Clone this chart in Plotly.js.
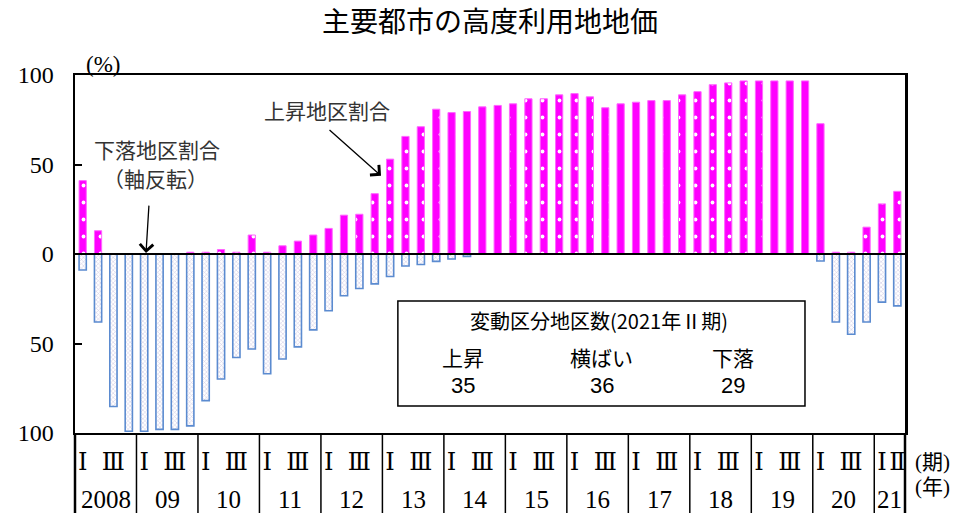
<!DOCTYPE html>
<html>
<head>
<meta charset="utf-8">
<script src="https://cdn.plot.ly/plotly-3.0.1.min.js"></script>
<style>html,body{margin:0;padding:0;background:#fff;}#chart{width:960px;height:513px;}</style>
</head>
<body>
<div id="chart"></div>
<script>
// ---- data ----
const years = ['2008','09','10','11','12','13','14','15','16','17','18','19','20','21'];
const quartersPerYear = [4,4,4,4,4,4,4,4,4,4,4,4,4,2];
const quarterNames = ['Ⅰ','Ⅱ','Ⅲ','Ⅳ'];
// 上昇地区割合 (%)
const riseShare = [41, 13, 0, 0, 0, 0, 0, 1, 1, 2.5, 1, 10.6, 1, 4.6, 7.2, 10.6,
  14.3, 21.7, 22.2, 33.7, 53, 65.7, 71.1, 80.9, 79, 79.6, 82.2, 83, 83.9, 86.7, 86.7, 88.9,
  89.6, 87.8, 81.7, 83.9, 84.8, 85.7, 85.7, 88.9, 90.7, 94.6, 95.6, 96.7, 96.7, 96.7, 96.7, 96.7,
  72.8, 1, 1, 15, 28, 35];
// 下落地区割合 (%) (軸反転)
const fallShare = [8.9, 38, 85.2, 99, 99, 98, 98, 96, 81.9, 69.8, 57.8, 53.1, 66.9, 58.7, 51.9, 42.4,
  31.7, 23.3, 19.3, 16.7, 12.6, 6.7, 5.9, 4.1, 2.8, 1.3, 0, 0, 0, 0, 0, 0,
  0, 0, 0, 0, 0, 0, 0, 0, 0, 0, 0, 0, 0, 0, 0, 0,
  3.9, 38, 44.8, 38, 26.9, 29];
const yTickVals = [-100, -50, 0, 50, 100];
const yTickText = ['100', '50', '0', '50', '100'];
const boxTitle = '変動区分地区数(2021年Ⅱ期)';
const boxLabels = ['上昇', '横ばい', '下落'];
const boxCounts = [35, 36, 29];

// ---- build ----
const idx = [], qLabel = [], yearStart = [];
let k = 0;
years.forEach((y, yi) => {
  yearStart.push(k);
  for (let q = 0; q < quartersPerYear[yi]; q++) { idx.push(k); qLabel.push(q); k++; }
});
const tickVals = [], tickText = [];
idx.forEach((i) => {
  const q = qLabel[i];
  const yi = yearStart.filter(s => s <= i).length - 1;
  if (quartersPerYear[yi] === 2) { tickVals.push(i); tickText.push(quarterNames[q]); }
  else if (q === 0 || q === 2) { tickVals.push(i); tickText.push(quarterNames[q]); }
});

const serif = 'Liberation Serif, DejaVu Serif, Noto Sans CJK JP, serif';
const goth = 'Noto Sans CJK JP, sans-serif';

const traces = [
  {
    type: 'bar', x: idx, y: riseShare, width: 0.47, name: '上昇',
    marker: { color: '#ff00ff', line: { color: '#ff66ff', width: 1 },
      pattern: { shape: '.', fgcolor: '#ffffff', bgcolor: '#ff00ff', size: 17, solidity: 0.04, fillmode: 'replace' } },
    hoverinfo: 'skip'
  },
  {
    type: 'bar', x: idx, y: fallShare.map(v => -v), width: 0.47, name: '下落',
    marker: { color: '#ffffff', line: { color: '#5b8bd0', width: 1.6 },
      pattern: { shape: 'x', fgcolor: '#cbc4e2', bgcolor: '#ffffff', size: 3, solidity: 0.3, fillmode: 'replace' } },
    hoverinfo: 'skip'
  }
];

const shapes = [];
// year separators in the category table
yearStart.slice(1).forEach(s => {
  shapes.push({ type: 'line', xref: 'x', yref: 'paper', x0: s - 0.5, x1: s - 0.5, y0: 0, y1: -0.25,
    line: { color: '#000', width: 1.5 } });
});
shapes.push({ type: 'line', xref: 'x domain', yref: 'paper', x0: 0, x1: 0, y0: 0, y1: -0.25, line: { color: '#000', width: 2.5 } });
shapes.push({ type: 'line', xref: 'x domain', yref: 'paper', x0: 1, x1: 1, y0: 0, y1: -0.25, line: { color: '#000', width: 2.5 } });
// zero line on top
shapes.push({ type: 'line', xref: 'x domain', yref: 'y', x0: 0, x1: 1, y0: 0, y1: 0, layer: 'above', line: { color: '#000', width: 2 } });
// info box
shapes.push({ type: 'rect', xref: 'paper', yref: 'paper', x0: 0.389, x1: 0.8795, y0: 0.0754, y1: 0.3687,
  line: { color: '#000', width: 1.5 }, fillcolor: '#ffffff', layer: 'above' });

const annotations = [];
// year labels
years.forEach((y, yi) => {
  annotations.push({ x: yearStart[yi] + (quartersPerYear[yi] - 1) / 2, xref: 'x', y: -0.186, yref: 'paper',
    text: y, showarrow: false, font: { family: serif, size: 25, color: '#000' }, xanchor: 'center', yanchor: 'middle' });
});
annotations.push({ x: 1.0, xref: 'paper', xshift: 27, y: -0.08, yref: 'paper', text: '(期)', showarrow: false,
  font: { family: serif, size: 21, color: '#000' }, xanchor: 'center', yanchor: 'middle' });
annotations.push({ x: 1.0, xref: 'paper', xshift: 27, y: -0.15, yref: 'paper', text: '(年)', showarrow: false,
  font: { family: serif, size: 21, color: '#000' }, xanchor: 'center', yanchor: 'middle' });
annotations.push({ x: 0.034, xref: 'paper', y: 1.0, yref: 'paper', yshift: 11, text: '(%)', showarrow: false,
  font: { family: serif, size: 23, color: '#000' }, xanchor: 'center', yanchor: 'middle' });
// callouts
annotations.push({ x: 0.3042, xref: 'paper', y: 0.9022, yref: 'paper', text: '上昇地区割合', showarrow: false,
  font: { family: goth, size: 21, color: '#333' }, xanchor: 'center', yanchor: 'middle' });
annotations.push({ x: 0.0982, xref: 'paper', y: 0.7933, yref: 'paper', text: '下落地区割合', showarrow: false,
  font: { family: goth, size: 21, color: '#333' }, xanchor: 'center', yanchor: 'middle' });
annotations.push({ x: 0.0964, xref: 'paper', y: 0.7123, yref: 'paper', text: '（軸反転）', showarrow: false,
  font: { family: goth, size: 21, color: '#333' }, xanchor: 'center', yanchor: 'middle' });
annotations.push({ x: 19.41, xref: 'x', y: 43.7, yref: 'y', text: '', showarrow: true, ax: -53, ay: -47,
  arrowhead: 4, arrowsize: 2, arrowwidth: 1.3, arrowcolor: '#000' });
annotations.push({ x: 4.12, xref: 'x', y: 0.5, yref: 'y', text: '', showarrow: true, ax: 3, ay: -49,
  arrowhead: 4, arrowsize: 2, arrowwidth: 1.3, arrowcolor: '#000' });
// info box text
annotations.push({ x: 0.6313, xref: 'paper', y: 0.3156, yref: 'paper', text: boxTitle, showarrow: false,
  font: { family: goth, size: 20, color: '#000' }, xanchor: 'center', yanchor: 'middle' });
const boxX = [0.4675, 0.6349, 0.7928];
boxLabels.forEach((t, i) => {
  annotations.push({ x: boxX[i], xref: 'paper', y: 0.2123, yref: 'paper', text: t, showarrow: false,
    font: { family: goth, size: 21, color: '#000' }, xanchor: 'center', yanchor: 'middle' });
  annotations.push({ x: boxX[i], xref: 'paper', y: 0.1313, yref: 'paper', text: String(boxCounts[i]), showarrow: false,
    font: { family: 'Liberation Sans Narrow, Liberation Sans, Arial, sans-serif', size: 22, color: '#000' }, xanchor: 'center', yanchor: 'middle' });
});

const layout = {
  width: 960, height: 513,
  margin: { l: 75, r: 55, t: 75, b: 80, pad: 0 },
  paper_bgcolor: '#ffffff', plot_bgcolor: '#ffffff',
  showlegend: false,
  barmode: 'overlay',
  title: { text: '主要都市の高度利用地地価', font: { family: goth, size: 28, color: '#000' },
    x: 0.5, xref: 'paper', xanchor: 'center', y: 0.957, yref: 'container', yanchor: 'middle' },
  xaxis: {
    range: [-0.5, idx.length - 0.5], showgrid: false, zeroline: false,
    showline: true, mirror: true, linecolor: '#000', linewidth: 2,
    tickmode: 'array', tickvals: tickVals, ticktext: tickText, ticks: '',
    tickfont: { family: serif, size: 24, color: '#000' }, ticklabelstandoff: 6, tickangle: 0
  },
  yaxis: {
    range: [-100, 100], showgrid: false, zeroline: false,
    showline: true, mirror: true, linecolor: '#000', linewidth: 2.5,
    tickmode: 'array', tickvals: yTickVals, ticktext: yTickText,
    ticks: 'inside', ticklen: 7, tickwidth: 2, tickcolor: '#000',
    tickfont: { family: serif, size: 24, color: '#000' }, ticklabelstandoff: 14
  },
  shapes: shapes,
  annotations: annotations
};

Plotly.newPlot('chart', traces, layout, { displayModeBar: false, staticPlot: true });
</script>
</body>
</html>
